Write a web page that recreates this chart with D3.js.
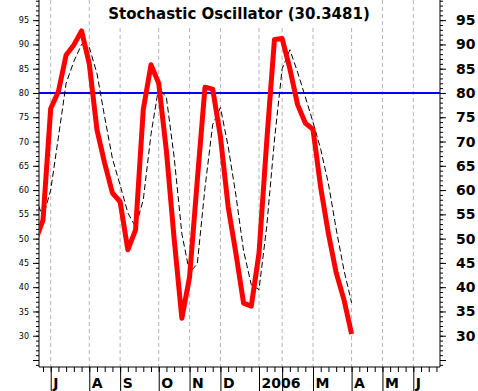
<!DOCTYPE html>
<html>
<head>
<meta charset="utf-8">
<script src="https://cdn.jsdelivr.net/npm/d3@7"></script>
<style>
  body { margin: 0; background: #fff; }
  svg { display: block; }
</style>
</head>
<body>
<svg class="vis-container"></svg>
<script>
// weekly values, index 0 here = 2 weeks before the July tick
const firstWeek = -2;
const pctK = [49.5, 53.8, 76.8, 80.3, 87.8, 89.9, 92.8, 86, 72.4, 65.5, 59.4, 57.6, 47.7, 51.8,
  76.6, 85.8, 82, 68, 50, 33.6, 42.1, 62, 81.2, 80.8, 71, 56.6, 47, 36.7, 36.1, 47, 70, 91,
  91.2, 85, 77.6, 73.8, 72.5, 60.5, 51, 43, 37.5, 30.35];
const pctD = [58.5, 54.4, 60, 70.9, 82, 86.5, 90, 89.4, 84, 75, 66.5, 61, 55.3, 52.4,
  58, 71.5, 81.2, 79, 66.8, 51, 43, 44.8, 60.5, 73.5, 77, 69, 59, 47.5, 40.5, 39.5, 52.5, 70.3,
  85, 88.9, 84.3, 79.2, 74, 68.4, 61.3, 52, 43.6, 36.8];

const monthLabels = ["J", "A", "S", "O", "N", "D", "2006", "", "M", "A", "M", "J"];
const monthWeeks = [0, 5, 9, 14, 18, 22, 27, 30, 34, 39, 43, 47];

const yMajor = [25, 30, 35, 40, 45, 50, 55, 60, 65, 70, 75, 80, 85, 90, 95];
const signalLevel = 80;
const title = "Stochastic Oscillator (30.3481)";

const width = 478;
const height = 391;
const plot = {left: 39, right: 440, top: 0, bottom: 367};

const svg = d3.select('.vis-container')
  .attr('width', width)
  .attr('height', height);

const x = d3.scaleLinear().domain([-1.517, 50.46]).range([plot.left, plot.right]);
const y = d3.scaleLinear().domain([23.56, 99.15]).range([plot.bottom, plot.top]);

const boldFont = '"DejaVu Sans", sans-serif';

// month grid (dashed grey)
svg.append('g')
  .selectAll('line')
  .data(monthWeeks)
  .enter()
  .append('line')
    .attr('x1', d => x(d)).attr('x2', d => x(d))
    .attr('y1', plot.top).attr('y2', plot.bottom)
    .attr('stroke', '#b4b4b4')
    .attr('stroke-dasharray', '4,3');

// title sits on a white box over the grid
const titleText = svg.append('text')
  .attr('x', 239)
  .attr('y', 19)
  .attr('text-anchor', 'middle')
  .style('font-family', boldFont)
  .style('font-weight', 'bold')
  .style('font-size', '15px')
  .text(title);
const bb = titleText.node().getBBox();
svg.insert('rect', 'text')
  .attr('x', bb.x - 6).attr('y', 0)
  .attr('width', bb.width + 12).attr('height', bb.y + bb.height + 4)
  .attr('fill', '#fff');

// left axis: minor every 1, major every 5
const minorVals = d3.range(24, 100);
svg.append('g')
  .attr('transform', `translate(${plot.left},0)`)
  .call(d3.axisLeft(y).tickValues(minorVals).tickSize(3).tickSizeOuter(0).tickFormat(''))
  .call(g => g.select('.domain').remove());
svg.append('g')
  .attr('transform', `translate(${plot.left},0)`)
  .call(d3.axisLeft(y).tickValues(yMajor).tickSize(6).tickSizeOuter(0).tickPadding(4)
    .tickFormat(d => d === 25 ? '' : d))
  .call(g => g.selectAll('text').style('font-family', boldFont).style('font-size', '8px'))
  .call(g => g.select('.domain').attr('d', `M0,${plot.top}V${plot.bottom}`));

// right axis
svg.append('g')
  .attr('transform', `translate(${plot.right},0)`)
  .call(d3.axisRight(y).tickValues(minorVals).tickSize(3).tickSizeOuter(0).tickFormat(''))
  .call(g => g.select('.domain').remove());
svg.append('g')
  .attr('transform', `translate(${plot.right},0)`)
  .call(d3.axisRight(y).tickValues(yMajor).tickSize(6).tickSizeOuter(0).tickPadding(10)
    .tickFormat(d => d === 25 ? '' : d))
  .call(g => g.selectAll('text').style('font-family', boldFont).style('font-weight', 'bold').style('font-size', '14px'))
  .call(g => g.select('.domain').attr('d', `M0,${plot.top}V${plot.bottom}`));

// bottom axis, weekly ticks + month ticks
svg.append('g')
  .attr('transform', `translate(0,${plot.bottom})`)
  .call(d3.axisBottom(x).tickValues(d3.range(-1, 51)).tickSize(5).tickSizeOuter(0).tickFormat(''))
  .call(g => g.select('.domain').attr('d', `M${plot.left},0H${plot.right}`));
svg.append('g')
  .attr('transform', `translate(0,${plot.bottom})`)
  .call(d3.axisBottom(x).tickValues(monthWeeks).tickSize(24).tickFormat((d, i) => monthLabels[i]))
  .call(g => g.select('.domain').remove())
  .call(g => g.selectAll('text')
    .attr('x', 2).attr('y', 21).attr('dy', null)
    .attr('text-anchor', 'start')
    .style('font-family', boldFont).style('font-weight', 'bold').style('font-size', '14px'));

svg.selectAll('.tick line').attr('stroke', '#000');

// lines, clipped to plot
svg.append('clipPath').attr('id', 'clip')
  .append('rect')
  .attr('x', plot.left).attr('y', plot.top)
  .attr('width', plot.right - plot.left).attr('height', plot.bottom - plot.top);

const lines = svg.append('g').attr('clip-path', 'url(#clip)');

lines.append('line')
  .attr('x1', plot.left).attr('x2', plot.right)
  .attr('y1', y(signalLevel)).attr('y2', y(signalLevel))
  .attr('stroke', '#0000ff')
  .attr('stroke-width', 2);

const line = d3.line()
  .x((d, i) => x(i + firstWeek))
  .y(d => y(d));

lines.append('path')
  .datum(pctD)
  .attr('fill', 'none')
  .attr('stroke', '#000')
  .attr('stroke-width', 1)
  .attr('stroke-dasharray', '6,3')
  .attr('d', line);

lines.append('path')
  .datum(pctK)
  .attr('fill', 'none')
  .attr('stroke', '#ff0000')
  .attr('stroke-width', 5)
  .attr('stroke-linejoin', 'round')
  .attr('d', line);
</script>
</body>
</html>
